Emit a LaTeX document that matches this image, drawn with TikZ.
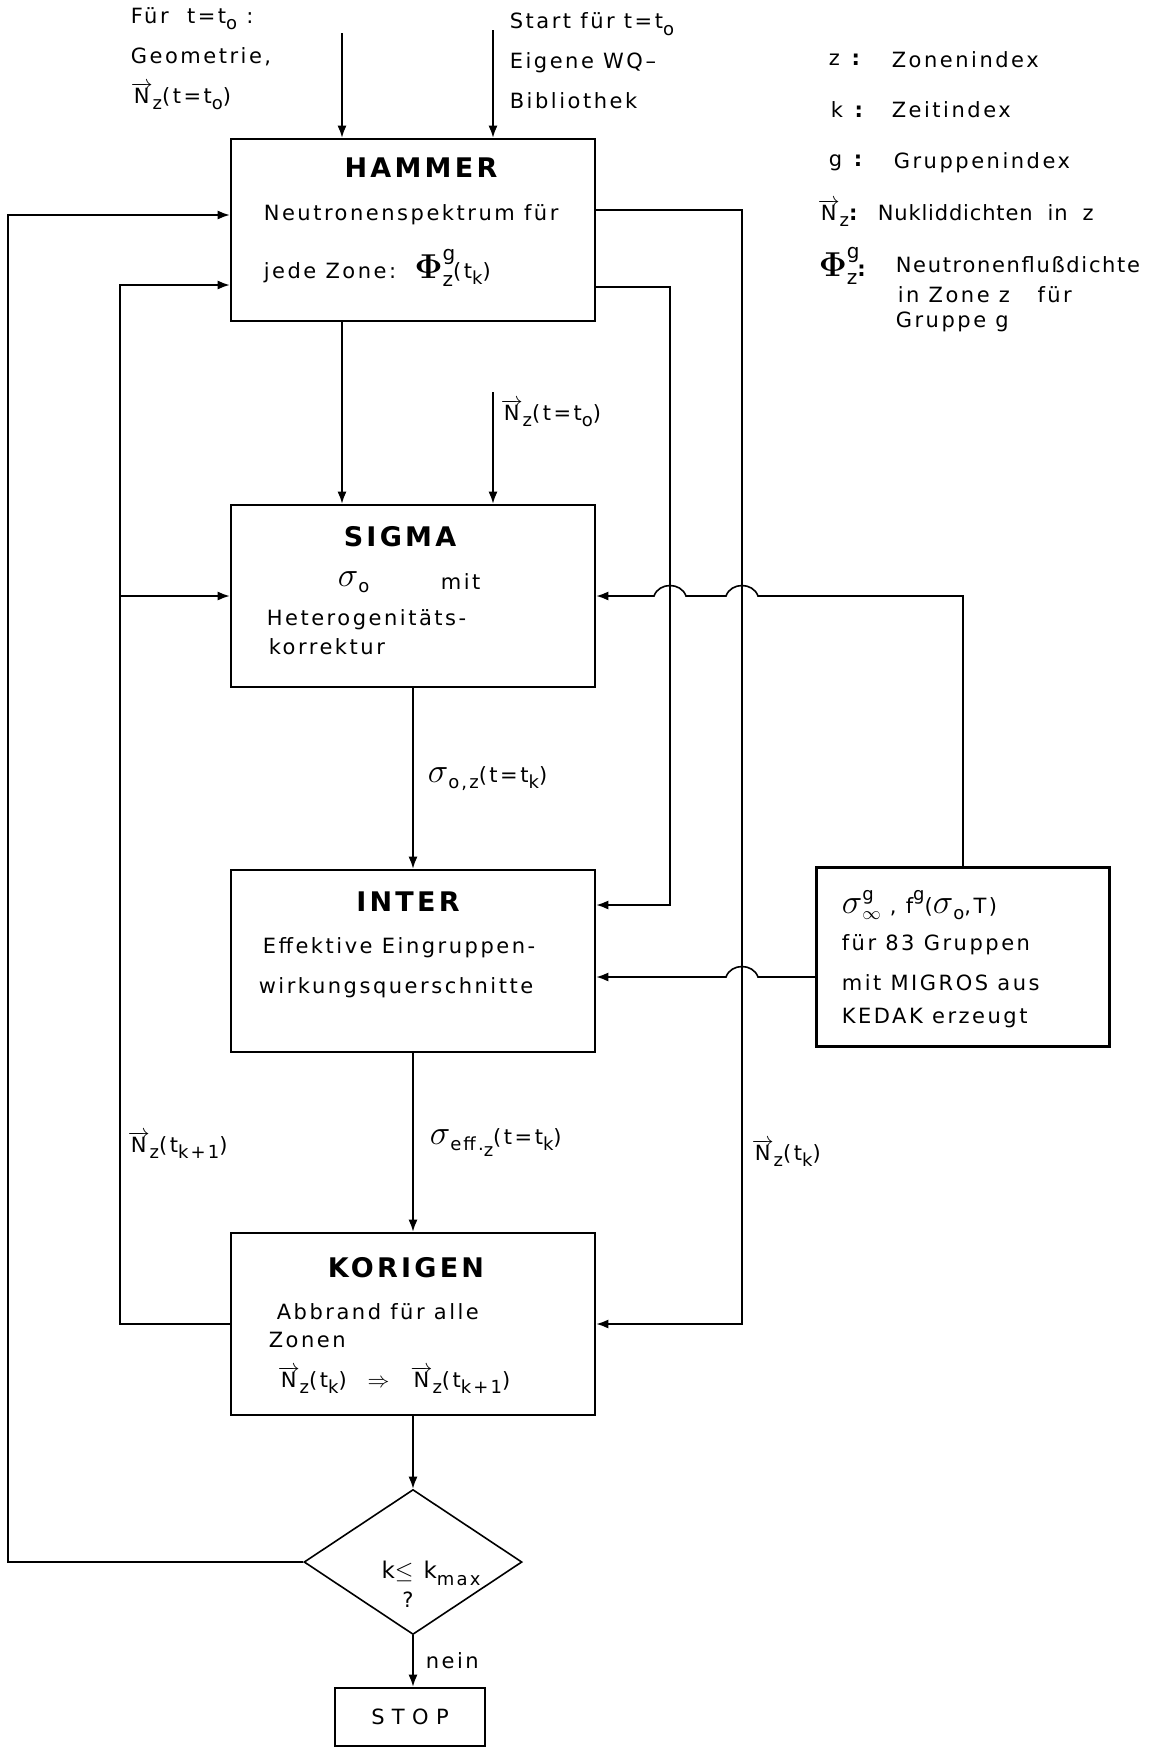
\documentclass[tikz,border=0pt]{standalone}
\usepackage{fontspec}
\setmainfont{DejaVu Sans}[LetterSpace=12]
\usetikzlibrary{arrows.meta,shapes.geometric,calc}

\newcommand{\lo}[1]{\raisebox{-0.55ex}{\fontsize{9}{9}\selectfont #1}}
\newcommand{\hi}[1]{\raisebox{1.1ex}{\fontsize{9}{9}\selectfont #1}}
\newcommand{\Nvec}{$\overrightarrow{\mathrm{N}}$\lo{z}}
\newcommand{\Phig}{{\fontsize{18}{18}\selectfont\boldmath$\Phi$}\rlap{\raisebox{1.5ex}{\fontsize{10}{10}\selectfont g}}\raisebox{-0.7ex}{\fontsize{10}{10}\selectfont z}}
\newcommand{\sig}{{\fontsize{16}{16}\selectfont$\sigma$}}

\tikzset{
  prog/.style={draw, line width=1.3pt, minimum width=182pt, minimum height=91pt, inner sep=0pt},
  title/.style={inner sep=0pt, font=\fontsize{13.5}{15}\selectfont\bfseries},
  txt/.style={anchor=west, inner sep=0pt, align=left, font=\fontsize{10.5}{20}\selectfont},
  lab/.style={inner sep=0pt, font=\fontsize{10.5}{20}\selectfont},
}

\begin{document}
\begin{tikzpicture}[x=0.5pt, y=-0.5pt, line width=0.8pt, >={Latex[length=6pt,width=4.5pt]}]
  \useasboundingbox (0,0) rectangle (1156,1747);

  % program boxes
  \node[prog] (hammer) at (413,230) {};
  \node[prog] (sigma) at (413,596) {};
  \node[prog] (inter) at (413,961) {};
  \node[prog] (korigen) at (413,1324) {};
  \node[draw, line width=1.3pt, minimum width=146.5pt, minimum height=89.5pt] (data) at (963,957) {};
  \node[diamond, draw, minimum width=109pt, minimum height=72.5pt, inner sep=0pt] (test) at (413,1562) {};
  \node[draw, line width=1.3pt, minimum width=75pt, minimum height=29pt, font=\fontsize{10.5}{12}\selectfont\addfontfeature{LetterSpace=35}] (stop) at (410,1717) {STOP};

  % box texts
  \node[title] (hamT) at (421,168) {HAMMER};
  \node[txt] (hamA) at (263,215) {Neutronenspektrum für};
  \node[txt] (hamB) at (263,268) {jede Zone:\ \ \Phig(t\lo{k})};

  \node[title] (sigT) at (400,537) {SIGMA};
  \node[txt] (sigA) at (337,582) {\sig\lo{o}};
  \node[txt] (sigB) at (440,582) {mit};
  \node[txt] (sigC) at (266,620) {Heterogenitäts-};
  \node[txt] (sigD) at (268,647) {korrektur};

  \node[title] (intT) at (408,902) {INTER};
  \node[txt] (intA) at (262,948) {Effektive Eingruppen-};
  \node[txt] (intB) at (258,988) {wirkungsquerschnitte};

  \node[title] (korT) at (406,1268) {KORIGEN};
  \node[txt] (korA) at (276,1312) {Abbrand für alle};
  \node[txt] (korB) at (268,1340) {Zonen};
  \node[txt] (korC) at (277,1380) {\Nvec(t\lo{k})\quad$\Rightarrow$\quad\Nvec(t\lo{k+1})};

  \node[txt] (datA) at (841,905) {\sig\rlap{\hi{g}}\lo{$\infty$}\ , f\hi{g}(\sig\lo{o},T)};
  \node[txt] (datB) at (841,945) {für 83 Gruppen};
  \node[txt] (datC) at (841,983) {mit MIGROS aus};
  \node[txt] (datD) at (841,1018) {KEDAK erzeugt};

  \node[lab, font=\fontsize{11.5}{20}\selectfont] (testA) at (431,1573) {k$\leq$ k\lo{max}};
  \node[lab] (testB) at (408,1600) {?};

  % inputs
  \node[txt] (geo) at (130,59) {Für\ \ t=t\lo{o} :\\Geometrie,\\\Nvec(t=t\lo{o})};
  \node[txt] (wq) at (509,61) {Start für t=t\lo{o}\\Eigene WQ–\\Bibliothek};
  \coordinate (geoIn) at (342,33);
  \coordinate (wqIn) at (493,30);
  \coordinate (nzIn) at (493,392);
  \node[txt] (nzLab) at (500,413) {\Nvec(t=t\lo{o})};

  % legend
  \node[txt] (lgz) at (828,60) {z\ \textbf{:}};
  \node[txt] (lgzT) at (891,60) {Zonenindex};
  \node[txt] (lgk) at (830,110) {k\ \textbf{:}};
  \node[txt] (lgkT) at (891,110) {Zeitindex};
  \node[txt] (lgg) at (828,163) {g\ \textbf{:}};
  \node[txt] (lggT) at (893,163) {Gruppenindex};
  \node[txt] (lgn) at (817,213) {\Nvec\textbf{:}};
  \node[txt, font=\fontsize{10.5}{20}\selectfont\addfontfeature{LetterSpace=4}] (lgnT) at (877,213) {Nukliddichten\ \ in\ \ z};
  \node[txt] (lgp) at (818,266) {\Phig\textbf{:}};
  \node[txt, font=\fontsize{10.5}{20}\selectfont\addfontfeature{LetterSpace=8}] (lgpT) at (895,265) {Neutronenflußdichte};
  \node[txt] (lgpA) at (897,295) {in Zone z\ \ \ für};
  \node[txt] (lgpB) at (895,322) {Gruppe g};

  % loop corners
  \coordinate (outerL) at (8,215);
  \coordinate (innerL) at (120,285);
  \coordinate (outerR) at (742,210);
  \coordinate (innerR) at (670,287);
  \coordinate (interA) at ([yshift=28pt]inter.east);
  \coordinate (interB) at ([yshift=-8pt]inter.east);

  % main flow
  \draw[->] (geoIn) -- (geoIn |- hammer.north);
  \draw[->] (wqIn) -- (wqIn |- hammer.north);
  \draw[->] (geoIn |- hammer.south) -- (geoIn |- sigma.north);
  \draw[->] (nzIn) -- (nzIn |- sigma.north);
  \draw[->] (sigma.south) -- (inter.north) node[lab, midway, right=7pt] (lSig) {\sig\lo{o,z}(t=t\lo{k})};
  \draw[->] (inter.south) -- (korigen.north) node[lab, midway, right=8pt] (lEff) {\sig\lo{eff.\lo{z}}(t=t\lo{k})};
  \draw[->] (korigen.south) -- (test.north);
  \draw[->] (test.south) -- (test.south |- stop.north) node[lab, midway, right=6pt] (lNein) {nein};

  % feedback loops
  \draw[->] (test.west) -| (outerL) -- (outerL -| hammer.west);
  \draw[->] (korigen.west) -| (innerL) -- (innerL -| hammer.west);
  \draw[->] (innerL |- sigma.west) -- (sigma.west);
  \node[txt] (lNk1) at (127,1145) {\Nvec(t\lo{k+1})};
  \draw[->] (outerR -| hammer.east) -- (outerR) |- (korigen.east);
  \node[txt] (lNk) at (751,1153) {\Nvec(t\lo{k})};
  \draw[->] (innerR -| hammer.east) -- (innerR) |- (interA);

  % cross sections, hopping over the loops
  \draw[->] (data.north) |- ($(outerR |- sigma.east)+(16,0)$) .. controls +(-5,-14) and +(5,-14) .. ($(outerR |- sigma.east)+(-16,0)$)
    -- ($(innerR |- sigma.east)+(16,0)$) .. controls +(-5,-14) and +(5,-14) .. ($(innerR |- sigma.east)+(-16,0)$) -- (sigma.east);
  \draw[->] (interB -| data.west) -- ($(outerR |- interB)+(16,0)$) .. controls +(-5,-14) and +(5,-14) .. ($(outerR |- interB)+(-16,0)$) -- (interB);
\end{tikzpicture}
\end{document}
